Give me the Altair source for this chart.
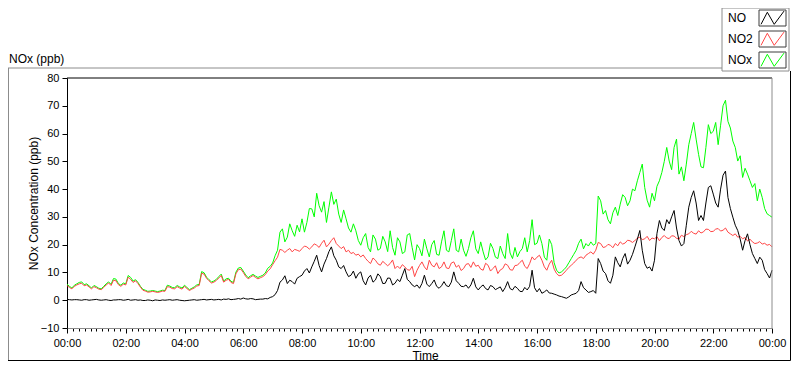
import altair as alt
import pandas as pd

# ---------------- data (5-minute steps, one row per hour) ----------------
SERIES = ["NO", "NO2", "NOx"]
COLORS = ["#000000", "#ff4545", "#00ff00"]

STEP_MIN = 5

NO = [
    0.3, 0.2, 0.1, 0.2, 0.2, 0.1, 0.0, 0.2, 0.2, 0.0, 0.1, 0.2,
    0.3, 0.1, 0.0, 0.1, 0.2, 0.0, -0.1, 0.1, 0.1, 0.2, 0.2, 0.0,
    0.1, 0.3, 0.0, 0.1, 0.2, 0.0, 0.1, -0.1, -0.1, 0.1, 0.0, -0.2,
    0.1, 0.0, -0.1, 0.1, 0.0, 0.1, 0.2, 0.0, 0.1, 0.2, 0.0, -0.1,
    -0.2, -0.1, 0.0, 0.1, 0.2, 0.0, 0.1, 0.2, 0.3, 0.1, 0.2, 0.3,
    0.1, 0.2, 0.3, 0.1, 0.4, 0.3, 0.5, 0.2, 0.3, 0.4, 0.6, 0.4,
    0.8, 0.5, 0.4, 0.6, 0.5, 0.2, 0.3, 0.4, 0.4, 0.6, 0.5, 1.0,
    1.3, 2.0, 3.5, 6.5, 7.3, 8.8, 6.0, 7.2, 6.7, 5.8, 7.9, 8.5,
    9.0, 10.5, 11.4, 9.8, 12.0, 14.0, 16.2, 12.5, 10.2, 13.0, 15.0, 17.5,
    19.2, 16.0, 14.4, 12.0, 11.4, 12.5, 10.2, 8.5, 9.0, 10.5, 7.9, 9.5,
    10.2, 7.0, 5.5, 8.0, 9.0, 6.5, 7.3, 9.5, 8.5, 6.0, 6.1, 8.0,
    7.9, 5.5, 6.1, 7.5, 6.7, 9.0, 11.4, 7.5, 6.7, 5.5, 4.9, 5.5,
    4.3, 6.0, 9.0, 5.8, 4.9, 6.0, 7.3, 5.0, 4.3, 5.2, 6.7, 5.2,
    4.9, 6.5, 10.2, 7.0, 6.1, 5.0, 4.9, 5.5, 4.3, 5.5, 7.9, 4.8,
    3.7, 4.8, 5.5, 4.2, 3.7, 5.3, 4.9, 3.8, 4.3, 4.8, 3.1, 4.5,
    6.7, 4.2, 3.7, 5.0, 4.3, 3.2, 3.1, 4.6, 3.7, 5.0, 10.8, 4.5,
    3.0, 4.2, 2.5, 3.0, 3.7, 2.6, 2.5, 2.2, 1.9, 1.5, 1.3, 1.0,
    0.7, 1.2, 1.9, 2.2, 2.5, 3.5, 6.7, 4.5, 3.7, 2.8, 3.1, 3.5,
    2.5, 15.0, 13.2, 10.5, 9.6, 7.0, 6.1, 9.0, 15.6, 13.5, 12.0, 15.0,
    16.8, 13.0, 14.4, 16.5, 19.2, 22.0, 25.1, 18.0, 13.2, 11.5, 12.0, 10.5,
    14.4, 24.0, 28.7, 26.0, 25.1, 29.0, 27.5, 30.0, 32.3, 26.0, 21.5, 19.5,
    20.4, 27.0, 33.5, 37.0, 39.4, 35.0, 28.7, 30.5, 28.7, 35.0, 40.6, 41.2,
    38.2, 35.0, 33.5, 40.0, 45.0, 46.5, 37.0, 33.0, 29.9, 27.0, 25.1, 22.0,
    18.0, 21.5, 23.9, 20.0, 16.8, 15.0, 13.2, 15.5, 14.4, 11.0, 9.6, 8.0,
    10.8,
]

NO2 = [
    5.3, 4.6, 4.1, 5.0, 5.5, 5.9, 6.1, 5.2, 5.5, 4.8, 4.1, 4.9,
    4.5, 4.0, 3.8, 4.6, 5.5, 6.2, 5.3, 7.2, 7.0, 5.6, 5.0, 5.8,
    5.5, 8.3, 7.5, 6.4, 7.0, 6.0, 4.7, 3.6, 3.3, 2.9, 3.0, 3.2,
    3.0, 2.8, 3.0, 3.3, 3.2, 4.9, 4.7, 4.2, 4.1, 4.9, 4.4, 4.0,
    5.0, 4.2, 3.5, 4.0, 4.4, 5.1, 5.3, 9.7, 9.4, 7.9, 7.0, 6.2,
    6.5, 7.1, 8.0, 8.9, 6.5, 7.2, 7.5, 6.4, 6.0, 9.5, 11.0, 11.2,
    10.0, 8.6, 7.7, 8.3, 8.9, 8.2, 7.7, 8.1, 8.5, 9.2, 10.5, 11.3,
    12.8, 14.2, 15.5, 18.3, 18.0, 17.2, 18.0, 18.6, 17.4, 18.3, 18.0, 17.6,
    18.6, 19.5, 19.2, 18.4, 19.2, 20.3, 19.8, 19.0, 20.5, 21.6, 19.2, 20.2,
    21.5, 22.5, 20.4, 19.5, 18.6, 19.3, 17.4, 18.0, 16.8, 17.2, 16.2, 16.6,
    15.6, 16.3, 15.0, 14.0, 13.2, 15.2, 14.4, 13.1, 12.6, 14.0, 13.2, 12.4,
    13.2, 14.5, 11.4, 12.3, 11.4, 12.8, 12.0, 11.0, 10.8, 12.2, 8.5, 10.8,
    12.5, 13.8, 12.0, 10.9, 14.4, 12.6, 12.0, 13.5, 11.4, 12.0, 13.8, 11.6,
    11.4, 13.4, 13.8, 11.9, 12.6, 10.7, 11.4, 12.9, 13.2, 11.8, 13.8, 12.2,
    12.6, 11.2, 10.8, 13.3, 12.6, 10.5, 11.4, 12.4, 9.6, 10.9, 11.4, 13.1,
    12.6, 11.0, 10.8, 12.5, 12.6, 13.6, 14.4, 12.2, 11.4, 13.2, 15.6, 14.5,
    15.5, 16.2, 14.4, 12.0, 10.8, 13.0, 14.4, 11.2, 9.6, 8.8, 9.0, 9.8,
    10.8, 11.8, 12.6, 13.4, 14.4, 15.2, 15.6, 15.0, 16.2, 16.8, 17.4, 16.6,
    18.0, 20.8, 20.4, 19.0, 19.2, 20.1, 19.8, 18.9, 20.4, 19.6, 21.0, 20.2,
    20.6, 21.6, 21.4, 20.8, 21.5, 22.3, 22.7, 21.8, 22.1, 23.0, 21.5, 22.4,
    22.1, 22.9, 21.4, 22.6, 23.3, 22.4, 22.2, 23.2, 23.1, 22.3, 22.0, 23.4,
    22.9, 23.6, 23.9, 24.8, 24.1, 23.8, 25.0, 24.2, 24.6, 25.6, 25.5, 24.7,
    24.8, 25.6, 25.8, 24.9, 25.2, 26.0, 24.5, 23.9, 23.3, 23.9, 22.7, 23.0,
    22.1, 22.6, 21.3, 22.0, 21.0, 20.4, 20.6, 21.1, 20.2, 20.5, 19.8, 20.1,
    19.2,
]

NOX = [
    5.8, 5.0, 4.4, 5.4, 5.9, 6.4, 6.6, 5.6, 5.9, 5.2, 4.4, 5.3,
    4.9, 4.3, 4.1, 5.0, 5.9, 6.6, 5.7, 7.8, 7.6, 6.0, 5.4, 6.2,
    5.9, 8.9, 8.2, 6.9, 7.4, 6.4, 5.0, 3.9, 3.6, 3.2, 3.3, 3.5,
    3.3, 3.1, 3.3, 3.6, 3.5, 5.4, 5.1, 4.6, 4.5, 5.3, 4.8, 4.4,
    5.4, 4.6, 3.8, 4.3, 4.8, 5.5, 5.7, 10.3, 9.9, 8.3, 7.4, 6.6,
    6.9, 7.5, 8.5, 9.4, 6.9, 7.7, 7.9, 6.8, 6.4, 10.1, 11.6, 11.8,
    10.5, 9.1, 8.1, 8.8, 9.3, 8.7, 8.2, 8.6, 9.0, 9.8, 11.5, 12.2,
    13.4, 16.0, 18.0, 24.5, 25.7, 21.0, 22.7, 27.5, 25.0, 23.0, 27.0, 24.6,
    29.3, 24.5, 28.0, 33.0, 32.9, 30.0, 38.5, 34.0, 31.7, 35.5, 28.0, 33.5,
    39.0, 34.5, 36.4, 31.0, 28.0, 32.5, 29.3, 26.0, 24.5, 27.5, 25.0, 21.5,
    19.8, 22.5, 24.0, 19.0, 17.4, 23.5, 22.0, 18.0, 18.6, 23.0, 21.0, 17.5,
    25.0, 19.0, 16.2, 22.5, 21.0, 16.8, 17.4, 23.5, 24.0, 19.0, 14.5, 20.0,
    18.6, 16.0, 22.0, 18.5, 15.6, 20.0, 21.5, 16.5, 16.2, 21.0, 25.0, 18.0,
    17.4, 21.5, 25.7, 18.0, 17.4, 22.0, 18.0, 15.8, 18.6, 22.5, 25.0, 18.5,
    16.8, 21.0, 17.4, 14.5, 15.6, 20.5, 18.6, 15.5, 15.0, 19.5, 16.8, 15.0,
    24.0, 17.0, 15.0, 19.0, 15.6, 17.5, 18.6, 22.5, 17.4, 21.5, 29.0, 20.0,
    20.5, 23.5, 20.4, 15.5, 14.4, 22.0, 20.0, 13.5, 10.8, 9.8, 10.2, 11.0,
    12.0, 13.5, 15.0, 16.5, 18.0, 20.5, 22.0, 18.5, 20.4, 19.5, 21.0, 19.8,
    20.4, 37.5, 35.8, 31.0, 32.3, 29.0, 27.5, 31.5, 33.5, 30.5, 34.6, 38.0,
    37.0, 34.0, 35.8, 40.0, 39.4, 43.0, 46.0, 49.0, 40.6, 36.0, 33.5, 38.5,
    35.8, 41.0, 43.0, 46.0, 50.0, 55.0, 50.1, 47.0, 55.0, 58.0, 45.4, 48.0,
    43.0, 49.0, 56.0, 60.0, 64.0, 58.0, 52.5, 48.0, 47.7, 55.0, 63.2, 60.0,
    60.8, 64.0, 56.0, 63.0, 70.0, 72.0, 64.4, 62.0, 57.3, 55.0, 50.1, 52.0,
    44.2, 47.5, 45.4, 43.0, 40.6, 42.0, 35.8, 40.0, 37.0, 33.0, 31.1, 30.5,
    29.9,
]

TIME_MIN = [i * STEP_MIN for i in range(len(NO))]
Y_TICKS = list(range(-10, 81, 10))
X_TICKS = list(range(0, 1441, 12))  # minor every 12 min, labelled every 2 h

# ---------------- layout ----------------
FONT = "Liberation Sans"
W, H = 705, 250
PAD = {"left": 59, "top": 70, "right": 20, "bottom": 33}
GRAY = "#8c8c8c"

df = pd.DataFrame({
    "minute": TIME_MIN * 3,
    "series": ["NO"] * len(NO) + ["NO2"] * len(NO2) + ["NOx"] * len(NOX),
    "value": NO + NO2 + NOX,
})

x_axis = alt.Axis(
    values=X_TICKS,
    labelExpr="datum.value % 120 === 0 ? ((floor(datum.value/60) % 24 < 10 ? '0' : '') + (floor(datum.value/60) % 24) + ':00') : ''",
    tickSize={"condition": {"test": "datum.value % 120 === 0", "value": 5}, "value": 3},
    tickColor="#000000",
    domainColor=GRAY,
    labelFlush=False,
    labelPadding=4,
    labelFontSize=11,
    grid=False,
    title="Time",
    titleX=358,
    titleY=31,
    titleBaseline="alphabetic",
    titleFontSize=12,
    titleFontWeight="normal",
)

y_axis = alt.Axis(
    values=Y_TICKS,
    tickSize=5,
    tickColor="#000000",
    domainColor="#000000",
    labelPadding=3,
    labelFontSize=11,
    grid=False,
    title="NOx Concentration (ppb)",
    titleX=-34,
    titleY=H / 2,
    titleBaseline="middle",
    titleFontSize=12,
    titleFontWeight="normal",
)

base = alt.Chart(df).encode(
    x=alt.X("minute:Q", scale=alt.Scale(domain=[0, 1440], nice=False, zero=False), axis=x_axis),
    y=alt.Y("value:Q", scale=alt.Scale(domain=[-10, 80], nice=False, zero=False), axis=y_axis),
)

layers = []
for s in ["NOx", "NO2", "NO"]:
    c = COLORS[SERIES.index(s)]
    layers.append(
        base.transform_filter(alt.datum.series == s).mark_line(color=c, strokeWidth=1)
    )


def deco():
    return alt.Chart(alt.Data(values=[{}]))


def hrule(x1, x2, y, color):
    return deco().mark_rule(color=color, strokeWidth=1).encode(
        x=alt.value(x1), x2=alt.value(x2), y=alt.value(y))


def vrule(x, y1, y2, color):
    return deco().mark_rule(color=color, strokeWidth=1).encode(
        x=alt.value(x), y=alt.value(y1), y2=alt.value(y2))


# plot frame (top black, right gray)
layers.append(hrule(0, W, 0, "#000000"))
layers.append(vrule(W, 0, H, GRAY))

# outer frame
TOP = -PAD["top"]
LEFT = -PAD["left"]
BOTTOM = H + PAD["bottom"] - 0.5
RIGHT = W + PAD["right"] - 1.5
LEG_X1, LEG_X2, LEG_Y1, LEG_Y2 = 655, 722, TOP, -7
layers.append(hrule(LEFT, LEG_X1, -10, GRAY))
layers.append(vrule(LEFT + 0.5, -10, BOTTOM, GRAY))
layers.append(vrule(RIGHT, LEG_Y2, BOTTOM, "#000000"))
layers.append(hrule(LEFT, RIGHT, BOTTOM, "#000000"))

# top-left label
layers.append(
    deco().mark_text(align="left", baseline="alphabetic", fontSize=12, font=FONT, color="#000000")
    .encode(x=alt.value(LEFT + 1), y=alt.value(-15), text=alt.value("NOx (ppb)"))
)

# legend
layers.append(
    deco().mark_rect(fill="#ffffff", stroke=GRAY, strokeWidth=1)
    .encode(x=alt.value(LEG_X1), x2=alt.value(LEG_X2), y=alt.value(LEG_Y1), y2=alt.value(LEG_Y2))
)
ZIGZAG = "M-1,0.55L-0.45,-0.5L0.15,0.55L1,-0.6"
for i, (s, c) in enumerate(zip(SERIES, COLORS)):
    cy = TOP + 10 + i * 21
    layers.append(
        deco().mark_text(align="left", baseline="middle", fontSize=12, font=FONT, color="#000000")
        .encode(x=alt.value(LEG_X1 + 6), y=alt.value(cy), text=alt.value(s))
    )
    layers.append(
        deco().mark_rect(fill="#ffffff", stroke="#3c3c3c", strokeWidth=1)
        .encode(x=alt.value(LEG_X1 + 37), x2=alt.value(LEG_X1 + 64),
                y=alt.value(cy - 8), y2=alt.value(cy + 8))
    )
    layers.append(
        deco().mark_point(shape=ZIGZAG, size=529, filled=False, strokeWidth=1, color=c, opacity=1)
        .encode(x=alt.value(LEG_X1 + 50.5), y=alt.value(cy))
    )

chart = (
    alt.layer(*layers)
    .properties(width=W, height=H, padding=PAD, autosize=alt.AutoSizeParams(type="none"),
                background="#ffffff")
    .configure(font=FONT)
    .configure_view(stroke=None)
    .configure_axis(labelColor="#000000", titleColor="#000000", labelFont=FONT, titleFont=FONT)
)

chart.save("out.html", embed_options={"renderer": "svg", "actions": False})
